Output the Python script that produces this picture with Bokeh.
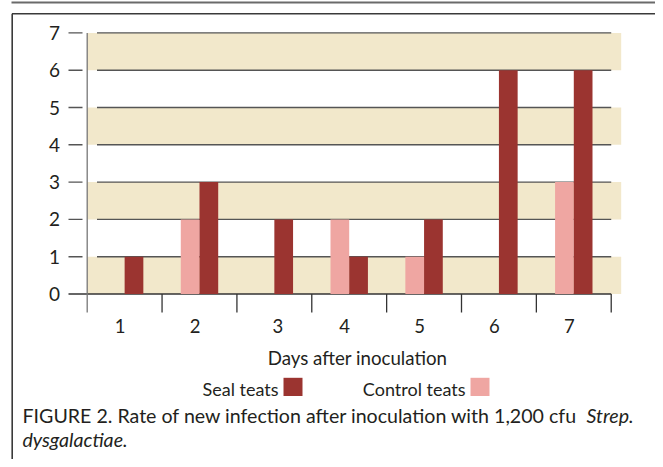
from bokeh.plotting import figure
from bokeh.models import Range1d
from bokeh.core.properties import value
from bokeh.embed import file_html
from bokeh.resources import INLINE

# ---- data ----
days = ["1", "2", "3", "4", "5", "6", "7"]
seal_teats = [1, 3, 2, 1, 2, 6, 6]
control_teats = [0, 2, 0, 2, 1, 0, 3]
y_ticks = [0, 1, 2, 3, 4, 5, 6, 7]
x_title = "Days after inoculation"
legend_labels = ["Seal teats", "Control teats"]
caption_main = "FIGURE 2. Rate of new infection after inoculation with 1,200 cfu"
caption_italic1 = "Strep."
caption_italic2 = "dysgalactiae."

# ---- styles ----
SEAL = "#9b3430"
CONTROL = "#efa6a2"
BAND = "#f2e8cb"
GRID = "#555555"
INK = "#231f20"
FONT = value("Lato")

# picture-pixel -> data helpers
X0, SX = 86.7, 74.86
Y0, SY = 293.5, 37.3
def dx(X):
    return (X - X0) / SX
def dy(Y):
    return (Y0 - Y) / SY

W, H = 655, 459
p = figure(width=W, height=H, output_backend="svg", toolbar_location=None,
           x_range=Range1d(dx(0), dx(W)), y_range=Range1d(dy(H), dy(0)),
           x_axis_location=None, y_axis_location=None, min_border=0)
p.outline_line_color = None
p.grid.visible = False
p.background_fill_color = "white"
p.border_fill_color = "white"

n = len(days)
ymax = y_ticks[-1]

# beige bands on alternate intervals
band_bottoms = [v for v in y_ticks[:-1] if v % 2 == 0]
p.quad(left=0, right=dx(620.7), bottom=band_bottoms, top=[b + 1 for b in band_bottoms],
       fill_color=BAND, line_color=None)

# gridlines
g = [v for v in y_ticks if v > 0]
p.segment(x0=dx(96.5), y0=g, x1=n, y1=g, line_color=GRID, line_width=1.4)
# baseline (0) continuous with its tick
p.segment(x0=[dx(68)], y0=[0], x1=[n], y1=[0], line_color="#333333", line_width=1.4)
# y ticks
p.segment(x0=dx(68), y0=g, x1=dx(82), y1=g, line_color=GRID, line_width=1.4)
# y axis line
p.segment(x0=[0], y0=[ymax], x1=[0], y1=[dy(312)], line_color="#777777", line_width=1.3)
# x ticks at category boundaries
bounds = list(range(1, n + 1))
p.segment(x0=bounds, y0=0, x1=bounds, y1=dy(312), line_color="#333333", line_width=1.3)

# bars
centers = [i + 0.5 for i in range(n)]
p.vbar(x=[c - 0.125 for c in centers], top=control_teats, bottom=0, width=0.25,
       fill_color=CONTROL, line_color=None)
p.vbar(x=[c + 0.125 for c in centers], top=seal_teats, bottom=0, width=0.25,
       fill_color=SEAL, line_color=None)

# y tick labels
p.text(x=dx(54), y=y_ticks, text=[str(v) for v in y_ticks], text_font=FONT,
       text_font_size="19px", text_align="center", text_baseline="middle", text_color=INK)

# x tick labels (slightly offset like the original)
label_shift = [-4.5, -4.5, 3.5, -4.5, -4.5, -4.5, -4.5]
p.text(x=[c + s / SX for c, s in zip(centers, label_shift)], y=dy(325), text=days,
       text_font=FONT, text_font_size="18.5px", text_align="center", text_baseline="middle",
       text_color=INK)

# x title
p.text(x=[dx(357)], y=[dy(357.5)], text=[x_title], text_font=FONT, text_font_size="18.7px",
       text_align="center", text_baseline="middle", text_color=INK)

# legend
p.text(x=[dx(278), dx(465)], y=dy(388), text=legend_labels, text_font=FONT,
       text_font_size="18px", text_align="right", text_baseline="middle", text_color=INK)
p.quad(left=[dx(283), dx(470)], right=[dx(302), dx(489)], bottom=dy(395.5), top=dy(377.3),
       fill_color=[SEAL, CONTROL], line_color=None)

# caption
p.text(x=[dx(22)], y=[dy(414.5)], text=[caption_main], text_font=FONT, text_font_size="19.6px",
       text_align="left", text_baseline="middle", text_color=INK)
p.text(x=[dx(586)], y=[dy(414.5)], text=[caption_italic1], text_font=FONT, text_font_size="19.6px",
       text_font_style="italic", text_align="left", text_baseline="middle", text_color=INK)
p.text(x=[dx(22)], y=[dy(438.5)], text=[caption_italic2], text_font=FONT, text_font_size="19.6px",
       text_font_style="italic", text_align="left", text_baseline="middle", text_color=INK)

# figure frame lines
p.segment(x0=[dx(11)], y0=[dy(2)], x1=[dx(W)], y1=[dy(2)], line_color="#6a6a6a", line_width=2.2)
p.segment(x0=[dx(11.5)], y0=[dy(13.2)], x1=[dx(W)], y1=[dy(13.2)], line_color="#3a3a3a", line_width=1.6)
p.segment(x0=[dx(11.7)], y0=[dy(13.2)], x1=[dx(11.7)], y1=[dy(H)], line_color="#3a3a3a", line_width=1.6)

open("out.html", "w").write(file_html(p, INLINE))
